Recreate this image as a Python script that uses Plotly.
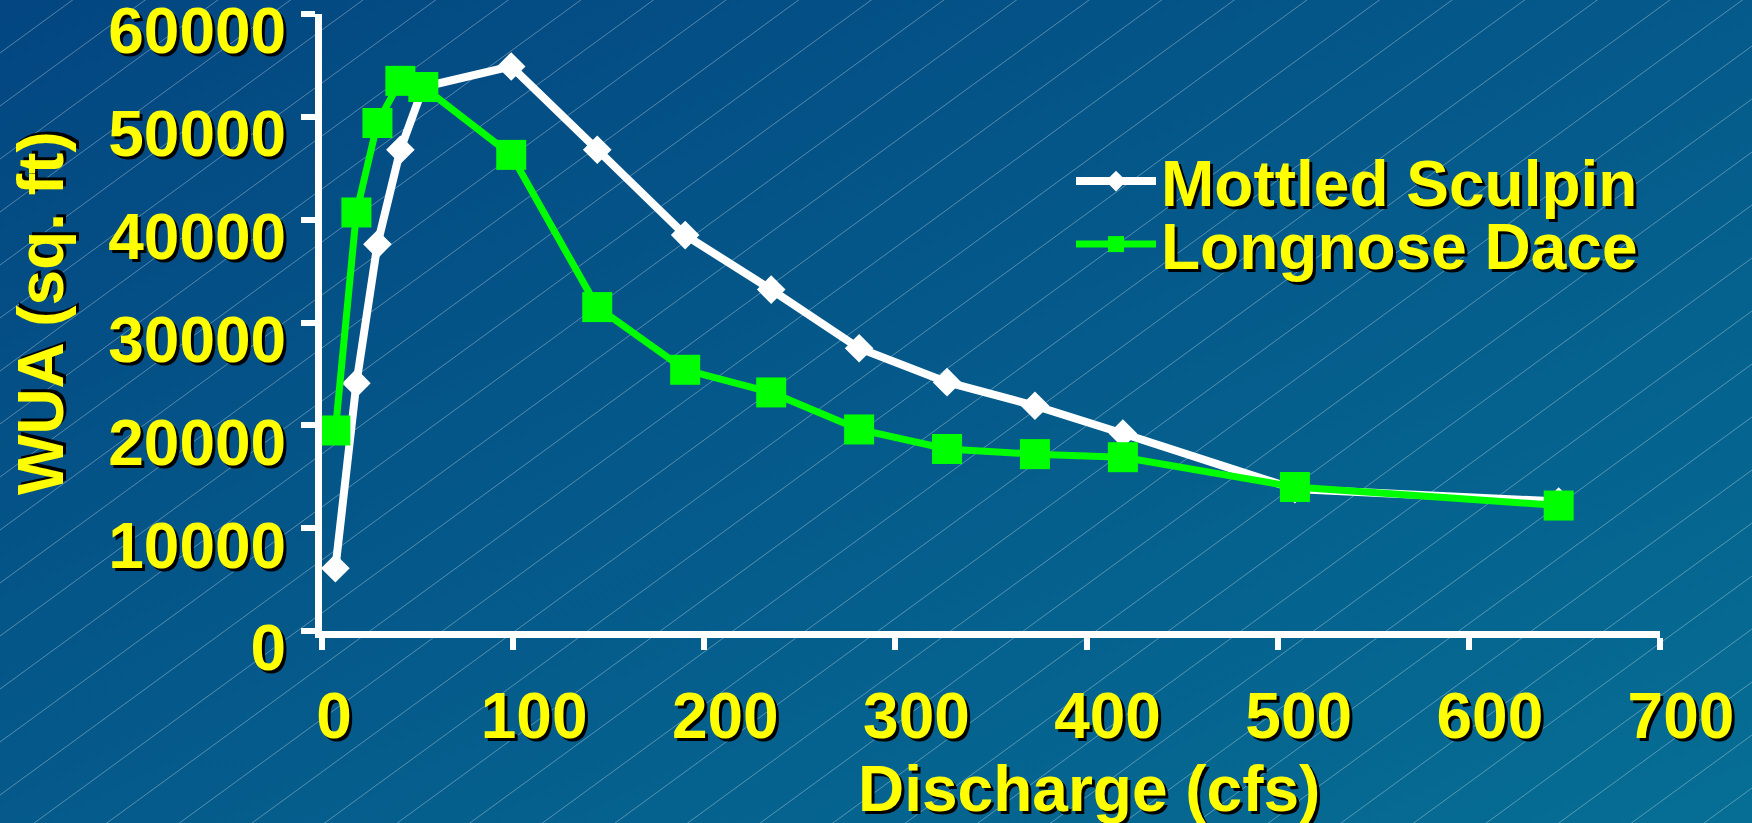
import base64
import plotly.graph_objects as go

# ---- data ----
discharge = [7, 18, 29, 41, 53, 99, 144, 190, 235, 281, 327, 373, 419, 509, 647]
mottled_sculpin = [6100, 24100, 37600, 46800, 52900, 54900, 46800, 38500, 33200,
                   27500, 24200, 21900, 19200, 13800, 12600]
longnose_dace = [19500, 40700, 49400, 53500, 52900, 46300, 31500, 25400, 23200,
                 19600, 17700, 17200, 16900, 14000, 12200]
x_ticks = [0, 100, 200, 300, 400, 500, 600, 700]
x_tick_labels = ["0\u00a0", "100", "200", "300", "400", "500", "600", "700"]
y_ticks = [0, 10000, 20000, 30000, 40000, 50000, 60000]
y_tick_labels = ["0", "10000", "20000", "30000", "40000", "50000", "60000"]

W, H = 1752, 823
YELLOW = "#FFFF00"
FONT = "Liberation Sans, Arial, sans-serif"
SHADOW = "3px 3px 0px #000000"

# ---- background: diagonal gradient + faint diagonal hatch lines ----
lines = []
slope = 0.73
for c in range(0, int(H + slope * W) + 60, 53):
    lines.append(f'<line x1="0" y1="{c}" x2="{W}" y2="{c - slope * W:.1f}" '
                 f'stroke="#ffffff" stroke-opacity="0.32" stroke-width="1"/>')
svg = (f'<svg xmlns="http://www.w3.org/2000/svg" width="{W}" height="{H}" '
       f'viewBox="0 0 {W} {H}">'
       '<defs><linearGradient id="g" x1="0" y1="0" x2="1" y2="1">'
       '<stop offset="0" stop-color="#034681"/>'
       '<stop offset="1" stop-color="#066E94"/>'
       '</linearGradient></defs>'
       f'<rect width="{W}" height="{H}" fill="url(#g)"/>' + "".join(lines) + '</svg>')
bg_uri = "data:image/svg+xml;base64," + base64.b64encode(svg.encode()).decode()

fig = go.Figure()
fig.add_trace(go.Scatter(
    x=discharge, y=mottled_sculpin, name="Mottled Sculpin", mode="lines+markers",
    line=dict(color="#FFFFFF", width=8),
    marker=dict(symbol="diamond", size=22, color="#FFFFFF", line=dict(width=0)),
    legend="legend",
))
fig.add_trace(go.Scatter(
    x=discharge, y=longnose_dace, name="Longnose Dace", mode="lines+markers",
    line=dict(color="#00FF00", width=7),
    marker=dict(symbol="square", size=30, color="#00FF00", line=dict(width=0)),
    legend="legend2",
))

L, R, T, B = 322, 92, 14, 192
pw, ph = W - L - R, H - T - B

def px_x(p):
    return (p - L) / pw

def px_y(p):
    return (H - B - p) / ph

def bold_font(size=64):
    return dict(family=FONT, size=size, color=YELLOW, weight="bold", shadow=SHADOW)

legend_common = dict(xanchor="left", yanchor="top", bgcolor="rgba(0,0,0,0)",
                     borderwidth=0, itemwidth=80, font=bold_font())

fig.update_layout(
    width=W, height=H,
    margin=dict(l=L, r=R, t=T, b=B, pad=0, autoexpand=False),
    paper_bgcolor="#045A8C",
    plot_bgcolor="rgba(0,0,0,0)",
    images=[dict(source=bg_uri, xref="paper", yref="paper", x=px_x(0), y=px_y(0),
                 sizex=W / pw, sizey=H / ph, xanchor="left", yanchor="top",
                 sizing="stretch", layer="below")],
    xaxis=dict(range=[0, 700], tickvals=x_ticks, ticktext=x_tick_labels,
               showgrid=False, zeroline=False, showline=True, linecolor="#FFFFFF",
               linewidth=7, ticks="outside", tickcolor="#FFFFFF", tickwidth=6,
               ticklen=12, tickfont=bold_font(), ticklabelstandoff=11,
               ticklabelshift=21, ticklabeloverflow="allow", automargin=False),
    yaxis=dict(range=[0, 60000], tickvals=y_ticks, ticktext=y_tick_labels,
               showgrid=False, zeroline=False, showline=True, linecolor="#FFFFFF",
               linewidth=7, ticks="outside", tickcolor="#FFFFFF", tickwidth=6,
               ticklen=14, tickfont=bold_font(), ticklabelstandoff=2,
               ticklabelshift=17, ticklabeloverflow="allow", automargin=False),
    showlegend=True,
    legend=dict(x=px_x(1071), y=px_y(133), **legend_common),
    legend2=dict(x=px_x(1071), y=px_y(196), **legend_common),
    annotations=[
        dict(text="Discharge (cfs)", xref="paper", yref="paper",
             x=px_x(1089), y=px_y(789), xanchor="center", yanchor="middle",
             showarrow=False, font=bold_font()),
        dict(text="WUA (sq. ft)", xref="paper", yref="paper", textangle=-90,
             x=px_x(41), y=px_y(313), xanchor="center", yanchor="middle",
             showarrow=False, font=bold_font()),
    ],
)

fig.write_html("out.html",
               config={"displayModeBar": False},
               post_script="document.body.style.margin='0px';"
                           "document.body.style.overflow='hidden';")
